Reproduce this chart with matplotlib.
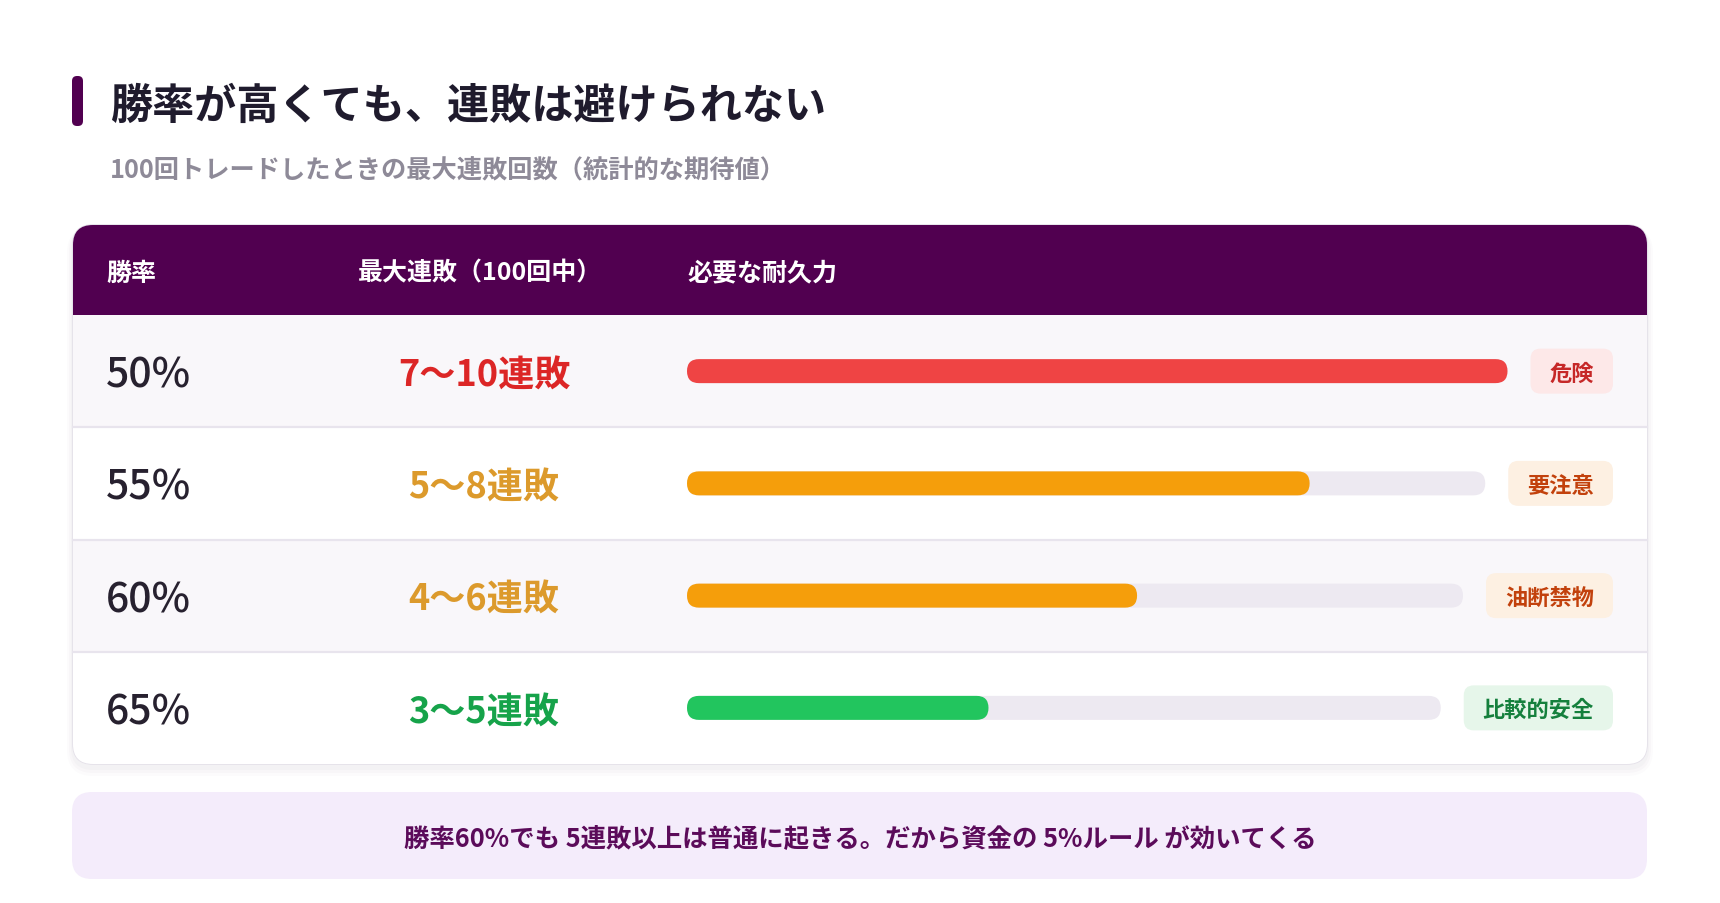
import matplotlib
matplotlib.use('Agg')
import matplotlib.pyplot as plt
from matplotlib.patches import FancyBboxPatch, Rectangle

plt.rcParams['font.family'] = ['Noto Sans CJK JP', 'DejaVu Sans']

# data
title = '勝率が高くても、連敗は避けられない'
subtitle = '100回トレードしたときの最大連敗回数（統計的な期待値）'
headers = ['勝率', '最大連敗（100回中）', '必要な耐久力']
win_rates = ['50%', '55%', '60%', '65%']
streaks = ['7〜10連敗', '5〜8連敗', '4〜6連敗', '3〜5連敗']
endurance = [100, 78, 58, 40]
badges = ['危険', '要注意', '油断禁物', '比較的安全']
note = '勝率60%でも 5連敗以上は普通に起きる。だから資金の 5%ルール が効いてくる'

# styles
streak_colors = ['#dc2626', '#dc9a2c', '#dc9a2c', '#16a34a']
bar_colors = ['#ef4444', '#f59e0b', '#f59e0b', '#22c55e']
badge_fg = ['#c62828', '#c2410c', '#c2410c', '#15803d']
badge_bg = ['#fde8e8', '#fdf0e2', '#fdf0e2', '#e6f6ea']
purple = '#510050'

W, H = 1720, 904
fig = plt.figure(figsize=(W / 100, H / 100), dpi=100)
ax = fig.add_axes([0, 0, 1, 1])
ax.set_xlim(0, W)
ax.set_ylim(H, 0)
ax.set_axis_off()


def rbox(x, y, w, h, r, **kw):
    p = FancyBboxPatch((x, y), w, h, boxstyle='round,pad=0,rounding_size=%g' % r, **kw)
    ax.add_patch(p)
    return p


# title block
rbox(72, 77, 11, 50, 5, fc=purple, ec='none')
ax.text(110, 107, title, fontsize=30.3, fontweight='bold', color='#1f1b2d',
        ha='left', va='center')
ax.text(110, 171, subtitle, fontsize=18.2, fontweight='bold', color='#8e8a98',
        ha='left', va='center')

# card
cx0, cx1, cy0, cy1 = 73, 1647, 226, 765
for i, a in enumerate([0.025, 0.02, 0.015]):
    rbox(cx0 - 2 - i * 2, cy0 + 2, cx1 - cx0 + 4 + i * 4, cy1 - cy0 + 4 + i * 3, 22 + i * 2,
         fc='#503060', ec='none', alpha=a, zorder=0)
card = rbox(cx0, cy0, cx1 - cx0, cy1 - cy0, 20, fc='white', ec='#e4e0e9', lw=1.2, zorder=1)

head_h = 90
hdr = Rectangle((cx0, cy0), cx1 - cx0, head_h, fc=purple, ec='none', zorder=2)
ax.add_patch(hdr)
hdr.set_clip_path(card)

col_x = [106, 358, 687]
for x, h in zip(col_x, headers):
    ax.text(x, cy0 + head_h / 2 + 2.5, h, fontsize=18, fontweight='bold', color='white',
            ha='left', va='center', zorder=3)

n = len(win_rates)
row_h = (cy1 - cy0 - head_h) / n
renderer = fig.canvas.get_renderer()
badge_right = 1613
streak_cx = 484

for i in range(n):
    top = cy0 + head_h + i * row_h
    yc = top + row_h / 2
    bg = Rectangle((cx0, top), cx1 - cx0, row_h, fc='#f9f7fa' if i % 2 == 0 else 'white',
                   ec='none', zorder=2)
    ax.add_patch(bg)
    bg.set_clip_path(card)
    if i > 0:
        ax.plot([cx0, cx1], [top, top], color='#e8e4ed', lw=1.6, zorder=3)

    ax.text(106, yc + 4, win_rates[i], fontsize=29.5, fontweight='medium', color='#27212f',
            ha='left', va='center', zorder=4)
    ax.text(streak_cx, yc + 4, streaks[i], fontsize=26, fontweight='bold',
            color=streak_colors[i], ha='center', va='center', zorder=4)

    # badge
    t = ax.text(badge_right - 19, yc + 2, badges[i], fontsize=16, fontweight='bold',
                color=badge_fg[i], ha='right', va='center', zorder=5)
    bb = t.get_window_extent(renderer)
    bw = bb.width + 38
    bx = badge_right - bw
    rbox(bx, yc - 22.5, bw, 45, 10, fc=badge_bg[i], ec='none', zorder=4)

    # endurance bar
    track_end = bx - 23
    track_len = track_end - 687
    rbox(687, yc - 12, track_len, 24, 12, fc='#ede9f1', ec='none', zorder=4)
    rbox(687, yc - 12, track_len * endurance[i] / 100, 24, 12, fc=bar_colors[i],
         ec='none', zorder=5)

# note box
rbox(72, 793, 1575, 87, 20, fc='#f4ecfb', ec='none', zorder=1)
ax.text(860, 839, note, fontsize=18.3, fontweight='bold', color='#5b0b5a',
        ha='center', va='center', zorder=2)

fig.savefig('out.png', dpi=100, facecolor='white')
